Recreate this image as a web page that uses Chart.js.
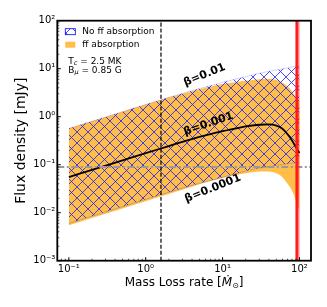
<!DOCTYPE html>
<html>
<head>
<meta charset="utf-8">
<script src="https://cdn.jsdelivr.net/npm/chart.js@4.4.1/dist/chart.umd.min.js"></script>
<style>
  body { margin: 0; background: #fff; }
  canvas { display: block; }
</style>
</head>
<body>
<canvas id="fluxChart" width="327" height="307"></canvas>
<script>
// mass loss rate samples
var massLoss = [0.1, 0.2, 0.5, 1, 2, 3, 5, 8, 10, 15, 20, 30, 40, 50, 60, 70, 80, 90, 100];
// flux density [mJy], without free-free absorption (beta = 0.01 / 0.0001)
var noFFHigh = [0.57, 0.80, 1.27, 1.80, 2.52, 3.05, 3.85, 4.7, 5.2, 6.1, 6.8, 8.0, 8.8, 9.4, 9.9, 10.4, 10.9, 11.3, 11.6];
var noFFLow = [0.0060, 0.0085, 0.0134, 0.019, 0.0268, 0.0325, 0.041, 0.050, 0.055, 0.065, 0.074, 0.085, 0.091, 0.097, 0.101, 0.105, 0.108, 0.110, 0.112];
// with free-free absorption
var ffHigh = [0.57, 0.80, 1.27, 1.79, 2.50, 3.02, 3.75, 4.45, 4.8, 5.3, 5.6, 6.0, 6.2, 5.9, 5.1, 4.3, 3.4, 2.5, 1.9];
var ffLow = [0.0055, 0.0078, 0.0123, 0.0174, 0.0245, 0.030, 0.039, 0.048, 0.053, 0.061, 0.066, 0.072, 0.072, 0.066, 0.055, 0.040, 0.029, 0.018, 0.011];
// beta = 0.001 curve
var beta001 = [0.055, 0.078, 0.123, 0.174, 0.245, 0.30, 0.38, 0.46, 0.50, 0.57, 0.63, 0.68, 0.69, 0.65, 0.56, 0.43, 0.32, 0.23, 0.175];

var detectionLimit = 0.09;
var dashedMdot = 1.58;
var redLine = 92;
var redBand = [93, 100];

var xTickValues = [0.1, 1, 10, 100];
var xTickLabels = ["10\u207B\u00B9", "10\u2070", "10\u00B9", "10\u00B2"];
var yTickValues = [0.001, 0.01, 0.1, 1, 10, 100];
var yTickLabels = ["10\u207B\u00B3", "10\u207B\u00B2", "10\u207B\u00B9", "10\u2070", "10\u00B9", "10\u00B2"];
var betaLabels = ["\u03B2=0.01", "\u03B2=0.001", "\u03B2=0.0001"];
var legendLabels = ["No ff absorption", "ff absorption"];

var xMin = Math.pow(10, -1.15);
var xMax = Math.pow(10, 2.15);
var FONT = "DejaVu Sans";
var ORANGE = "rgba(255,165,0,0.72)";

function pts(ys) {
  return massLoss.map(function (m, i) { return { x: m, y: ys[i] }; });
}

var ctx0 = document.getElementById("fluxChart").getContext("2d");

// 'x' hatch tile
function makeHatch(size) {
  var c = document.createElement("canvas");
  c.width = size;
  c.height = size;
  var g = c.getContext("2d");
  g.strokeStyle = "rgba(30,30,255,0.9)";
  g.lineWidth = 0.9;
  g.beginPath();
  g.moveTo(-1, -1); g.lineTo(size + 1, size + 1);
  g.moveTo(-1, size + 1); g.lineTo(size + 1, -1);
  g.stroke();
  return ctx0.createPattern(c, "repeat");
}
var hatch = makeHatch(11);

function drawRich(ctx, parts, x, y) {
  // parts: [text, size, dy, italic]
  parts.forEach(function (p) {
    ctx.font = (p[3] ? "italic " : "") + p[1] + "px " + FONT;
    ctx.fillText(p[0], x, y + p[2]);
    x += ctx.measureText(p[0]).width;
  });
  return x;
}
function richWidth(ctx, parts) {
  var w = 0;
  parts.forEach(function (p) {
    ctx.font = (p[3] ? "italic " : "") + p[1] + "px " + FONT;
    w += ctx.measureText(p[0]).width;
  });
  return w;
}

var decorations = {
  id: "decorations",
  afterDatasetsDraw: function (chart) {
    var ctx = chart.ctx, a = chart.chartArea, xs = chart.scales.x;
    ctx.save();
    ctx.beginPath();
    ctx.rect(a.left, a.top, a.right - a.left, a.bottom - a.top);
    ctx.clip();
    var b0 = xs.getPixelForValue(redBand[0]), b1 = xs.getPixelForValue(redBand[1]);
    ctx.fillStyle = "rgba(255,0,0,0.5)";
    ctx.fillRect(b0, a.top, b1 - b0, a.bottom - a.top);
    var r = xs.getPixelForValue(redLine);
    ctx.strokeStyle = "#ff1a1a";
    ctx.lineWidth = 2.5;
    ctx.beginPath();
    ctx.moveTo(r, a.top);
    ctx.lineTo(r, a.bottom);
    ctx.stroke();
    ctx.restore();
  },
  afterDraw: function (chart) {
    var ctx = chart.ctx, a = chart.chartArea, xs = chart.scales.x, ys = chart.scales.y;
    ctx.save();
    // inward ticks, left and bottom
    ctx.strokeStyle = "#000";
    for (var d = -3; d <= 2; d++) {
      for (var k = 1; k <= 9; k++) {
        var v = k * Math.pow(10, d);
        if (v < ys.min * 0.999 || v > ys.max * 1.001) continue;
        var py = ys.getPixelForValue(v);
        ctx.lineWidth = k == 1 ? 1 : 0.7;
        ctx.beginPath();
        ctx.moveTo(a.left, py);
        ctx.lineTo(a.left + (k == 1 ? 3.5 : 2), py);
        ctx.stroke();
      }
    }
    for (var d2 = -2; d2 <= 2; d2++) {
      for (var k2 = 1; k2 <= 9; k2++) {
        var vx = k2 * Math.pow(10, d2);
        if (vx < xMin || vx > xMax) continue;
        var px = xs.getPixelForValue(vx);
        ctx.lineWidth = k2 == 1 ? 1 : 0.7;
        ctx.beginPath();
        ctx.moveTo(px, a.bottom);
        ctx.lineTo(px, a.bottom - (k2 == 1 ? 3.5 : 2));
        ctx.stroke();
      }
    }
    // frame
    ctx.lineWidth = 1.8;
    ctx.strokeRect(a.left, a.top, a.right - a.left, a.bottom - a.top);

    // legend
    ctx.fillStyle = "#fff";
    ctx.fillRect(a.left + 8, a.top + 8, 10, 6);
    ctx.fillStyle = hatch;
    ctx.fillRect(a.left + 8, a.top + 8, 10, 6);
    ctx.strokeStyle = "blue";
    ctx.lineWidth = 0.8;
    ctx.strokeRect(a.left + 8, a.top + 8, 10, 6);
    ctx.fillStyle = ORANGE;
    ctx.fillRect(a.left + 8, a.top + 21, 10, 6);
    ctx.fillStyle = "#000";
    ctx.font = "9px " + FONT;
    ctx.textBaseline = "middle";
    ctx.textAlign = "left";
    ctx.fillText(legendLabels[0], a.left + 25, a.top + 11);
    ctx.fillText(legendLabels[1], a.left + 25, a.top + 24);

    // model parameters
    drawRich(ctx, [["T", 9, 0], ["c", 6.5, 2, true], [" = 2.5 MK", 9, 0]], a.left + 11, a.top + 41);
    drawRich(ctx, [["B", 9, 0], ["\u03BC", 6.5, 2, true], [" = 0.85 G", 9, 0]], a.left + 11, a.top + 49.5);

    // beta labels along the curves
    var spots = [[5.84, 7.4, -22], [6.57, 0.705, -19], [7.48, 0.032, -22]];
    ctx.font = "bold 11px " + FONT;
    ctx.textAlign = "center";
    spots.forEach(function (s, i) {
      ctx.save();
      ctx.translate(xs.getPixelForValue(s[0]), ys.getPixelForValue(s[1]));
      ctx.rotate(s[2] * Math.PI / 180);
      ctx.fillText(betaLabels[i], 0, 0);
      ctx.restore();
    });

    // x axis title
    var parts = [["Mass Loss rate [", 12, 0], ["\u1E40", 12, 0, true], ["\u2299", 8, 3], ["]", 12, 0]];
    ctx.textAlign = "left";
    var w = richWidth(ctx, parts);
    drawRich(ctx, parts, (a.left + a.right) / 2 - w / 2, 283);
    ctx.restore();
  }
};

var common = { pointRadius: 0, pointHoverRadius: 0, cubicInterpolationMode: "monotone" };

new Chart(ctx0, {
  type: "line",
  data: {
    datasets: [
      Object.assign({ data: [{ x: dashedMdot, y: 1e-3 }, { x: dashedMdot, y: 1e2 }], borderColor: "#000", borderWidth: 1.2, borderDash: [4, 2], fill: false }, common),
      Object.assign({ data: [{ x: xMin, y: detectionLimit }, { x: xMax, y: detectionLimit }], borderColor: "#999999", borderWidth: 2, borderDash: [7, 2.5, 2, 2.5], fill: false }, common),
      Object.assign({ data: pts(beta001), borderColor: "#000", borderWidth: 1.8, fill: false }, common),
      Object.assign({ data: pts(noFFHigh), borderColor: "rgba(0,0,255,0.18)", borderWidth: 1, backgroundColor: hatch, fill: "+1" }, common),
      Object.assign({ data: pts(noFFLow), borderColor: "rgba(0,0,255,0.18)", borderWidth: 1, fill: false }, common),
      Object.assign({ data: pts(ffHigh), borderWidth: 0, borderColor: "rgba(0,0,0,0)", backgroundColor: ORANGE, fill: "+1" }, common),
      Object.assign({ data: pts(ffLow), borderWidth: 0, borderColor: "rgba(0,0,0,0)", fill: false }, common)
    ]
  },
  options: {
    responsive: false,
    animation: false,
    layout: { padding: { left: 0, right: 16, top: 20.7, bottom: 0 } },
    plugins: { legend: { display: false }, tooltip: { enabled: false } },
    scales: {
      x: {
        type: "logarithmic",
        min: xMin,
        max: xMax,
        afterFit: function (s) { s.height = 46.3; },
        afterBuildTicks: function (s) { s.ticks = xTickValues.map(function (v) { return { value: v }; }); },
        grid: { display: false, drawTicks: false },
        border: { display: false },
        ticks: {
          autoSkip: false, maxRotation: 0, padding: 3, color: "#000",
          font: { family: FONT, size: 10 },
          callback: function (v) { return xTickLabels[xTickValues.indexOf(v)]; }
        }
      },
      y: {
        type: "logarithmic",
        min: 1e-3,
        max: 1e2,
        afterFit: function (s) { s.width = 57.3; },
        afterBuildTicks: function (s) { s.ticks = yTickValues.map(function (v) { return { value: v }; }); },
        grid: { display: false, drawTicks: false },
        border: { display: false },
        title: { display: true, text: "Flux density [mJy]", color: "#000", font: { family: FONT, size: 14 }, padding: { top: 13 } },
        ticks: {
          autoSkip: false, padding: 2, color: "#000",
          font: { family: FONT, size: 10 },
          callback: function (v) { return yTickLabels[yTickValues.indexOf(v)]; }
        }
      }
    }
  },
  plugins: [decorations]
});
</script>
</body>
</html>
